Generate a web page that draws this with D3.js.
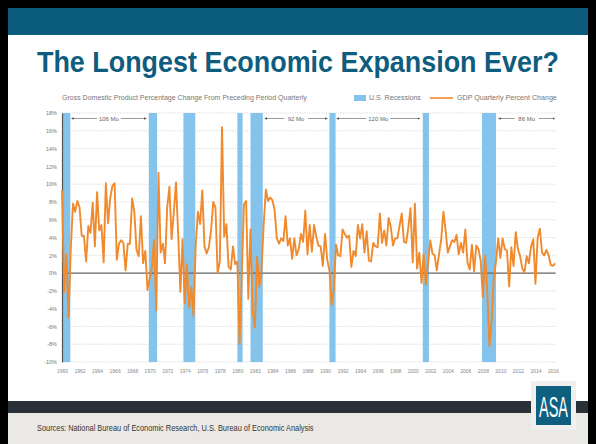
<!DOCTYPE html>
<html lang="en">
<head>
  <meta charset="UTF-8">
  <title>The Longest Economic Expansion Ever?</title>
  <script src="https://d3js.org/d3.v7.min.js"></script>
  <style>
    body { margin: 0; background: #000; }
    svg { display: block; }
    text { font-family: "Liberation Sans", Arial, sans-serif; }
  </style>
</head>
<body>
  <svg id="chart" width="596" height="444"></svg>

  <script>
    // real GDP, quarterly percent change (annualized), 1960 Q1 onward
    const startYear = 1960;
    const gdp = [
      9.3, -2.1, 2.1, -5.0,   2.7, 7.8, 6.9, 8.1,    7.4, 4.2, 4.2, 1.3,   5.3, 4.5, 7.9, 3.0,
      9.1, 4.8, 5.4, 1.2,     10.1, 5.6, 8.4, 9.8,   10.1, 1.5, 3.3, 3.7,  3.4, 0.3, 3.3, 3.3,
      8.4, 6.9, 2.6, 1.9,     6.4, 1.1, 2.5, -1.9,   -0.6, 0.6, 3.7, -4.2, 11.3, 2.3, 3.3, 1.1,
      7.4, 9.7, 3.8, 6.8,     10.2, 4.4, -2.1, 3.8,  -3.4, 1.0, -3.9, -1.6, -4.8, 3.1, 6.9, 5.5,
      9.3, 3.0, 2.2, 2.9,     4.8, 8.0, 7.4, 0.0,    1.3, 16.4, 4.1, 5.5,  0.7, 0.4, 3.0, 1.0,
      1.3, -8.0, -0.5, 7.7,   8.1, -2.9, 4.9, -4.3,  -6.1, 1.8, -1.5, 0.2, 5.4, 9.4, 8.1, 8.5,
      8.2, 7.1, 3.9, 3.3,     3.9, 3.6, 6.4, 3.1,    3.9, 1.6, 3.9, 2.0,   2.7, 4.4, 3.5, 7.0,
      2.1, 5.4, 2.4, 5.4,     4.1, 3.1, 3.0, 0.8,    4.4, 1.5, 0.3, -3.6,  -1.9, 3.2, 2.0, 1.9,
      4.9, 4.4, 4.0, 4.2,     0.7, 2.5, 1.9, 5.4,    3.9, 5.5, 2.3, 4.7,   1.4, 1.3, 3.4, 3.0,
      2.9, 6.7, 3.4, 4.8,     3.1, 6.2, 5.2, 3.1,    3.9, 3.9, 5.3, 6.7,   3.5, 3.4, 5.1, 7.3,
      1.2, 7.8, 0.5, 2.3,     -1.1, 2.1, -1.3, 1.1,  3.7, 2.2, 2.0, 0.3,   2.1, 3.8, 6.9, 4.8,
      2.3, 3.0, 3.7, 3.5,     4.3, 2.1, 3.4, 2.3,    4.9, 1.2, 0.4, 3.2,   0.2, 3.1, 2.7, 1.4,
      -2.7, 2.0, -1.9, -8.2,  -5.4, -0.5, 1.3, 3.9,  1.7, 3.9, 2.7, 2.5,   -1.5, 2.9, 0.8, 4.6,
      2.7, 1.9, 0.5, 0.1,     1.9, 1.1, 3.0, 3.8,    -1.2, 4.0, 5.0, 2.3,  2.0, 2.6, 2.0, 0.9,
      0.8, 1.1
    ];

    // NBER recessions, start/end in decimal years
    const recStart = [1960.0, 1969.9, 1973.85, 1980.0, 1981.5, 1990.5, 2001.15, 2007.9];
    const recEnd   = [1960.95, 1970.85, 1975.2, 1980.6, 1982.9, 1991.2, 2001.85, 2009.5];

    // expansion annotations
    const expLabel = ["106 Mo", "92 Mo", "120 Mo", "86 Mo"];
    const expFrom  = [1961.1, 1983.15, 1991.35, 2009.8];
    const expTo    = [1969.6, 1990.25, 2000.8, 2016.2];

    const yTicks = d3.range(-10, 19, 2);
    const xTicks = d3.range(1960, 2017, 2);

    const svg = d3.select("#chart");
    const teal = "#0e5d7e";

    // squeeze a text horizontally to a given width (narrow-font look)
    function fit(sel, x0, y0, w, anchor) {
      const len = sel.node().getComputedTextLength();
      const s = w / len;
      const dx = anchor === "middle" ? -w / 2 : 0;
      sel.attr("x", 0).attr("y", 0).attr("text-anchor", "start")
        .attr("transform", `translate(${x0 + dx},${y0}) scale(${s},1)`);
    }

    // slide frame
    svg.append("rect").attr("x", 8).attr("y", 8).attr("width", 580).attr("height", 436).attr("fill", "#fff");
    svg.append("rect").attr("x", 8).attr("y", 8).attr("width", 580).attr("height", 27).attr("fill", "#0b5c7c");
    svg.append("rect").attr("x", 8).attr("y", 413).attr("width", 580).attr("height", 31).attr("fill", "#ebe9e5");
    svg.append("rect").attr("x", 8).attr("y", 401).attr("width", 580).attr("height", 12).attr("fill", "#2a3038");

    const title = svg.append("text")
      .attr("font-size", 29).attr("font-weight", "bold")
      .attr("fill", teal)
      .text("The Longest Economic Expansion Ever?");
    fit(title, 37, 72, 522, "start");

    const src = svg.append("text")
      .attr("font-size", 8.5).attr("fill", "#333")
      .text("Sources: National Bureau of Economic Research, U.S. Bureau of Economic Analysis");
    fit(src, 37, 431, 277, "start");

    // logo
    svg.append("rect").attr("x", 531).attr("y", 381).attr("width", 45).attr("height", 49).attr("fill", "#f0efed");
    svg.append("rect").attr("x", 536).attr("y", 386).attr("width", 35).attr("height", 39).attr("fill", "#0f5f80");
    const logo = svg.append("text")
      .attr("font-size", 30).attr("fill", "#fff")
      .text("ASA");
    fit(logo, 553.5, 417, 29, "middle");

    // chart
    const x = d3.scaleLinear().domain([1960, 2016]).range([62, 553]);
    const y = d3.scaleLinear().domain([-10, 18]).range([362, 113]);
    const xRight = x(2016.3);

    const g = svg.append("g");

    g.selectAll(".grid")
      .data(yTicks.filter(d => d !== 0))
      .join("line")
      .attr("class", "grid")
      .attr("x1", x(1960)).attr("x2", xRight)
      .attr("y1", d => y(d)).attr("y2", d => y(d))
      .attr("stroke", "#cfcfcf").attr("stroke-width", 0.8)
      .attr("stroke-dasharray", "1.2,1.2");

    g.selectAll(".rec")
      .data(recStart)
      .join("rect")
      .attr("class", "rec")
      .attr("x", d => x(d))
      .attr("width", (d, i) => x(recEnd[i]) - x(d))
      .attr("y", y(18)).attr("height", y(-10) - y(18))
      .attr("fill", "#84c3ec");

    // y axis
    const yAxis = g.append("g")
      .attr("transform", `translate(${x(1960)},0)`)
      .call(d3.axisLeft(y).tickValues(yTicks).tickSize(0).tickPadding(5).tickFormat(d => d + "%"));
    yAxis.select(".domain").attr("stroke", "#555").attr("stroke-width", 1.2);
    yAxis.selectAll("text").attr("font-size", 5.5).attr("fill", "#777").attr("font-family", null);

    // x axis labels
    const xAxis = g.append("g")
      .attr("transform", `translate(0,${y(-10)})`)
      .call(d3.axisBottom(x).tickValues(xTicks).tickSize(0).tickPadding(7).tickFormat(d3.format("d")));
    xAxis.select(".domain").remove();
    xAxis.selectAll("text").attr("font-size", 5).attr("fill", "#888").attr("font-family", null);

    // zero line
    g.append("line")
      .attr("x1", x(1960)).attr("x2", xRight)
      .attr("y1", y(0)).attr("y2", y(0))
      .attr("stroke", "#666").attr("stroke-width", 1.3);

    const line = d3.line()
      .x((d, i) => x(startYear + i * 0.25))
      .y(d => y(d));

    g.append("path")
      .datum(gdp)
      .attr("d", line)
      .attr("fill", "none")
      .attr("stroke", "#f08a2c")
      .attr("stroke-width", 1.9)
      .attr("stroke-linejoin", "round");

    // expansion arrows
    const defs = svg.append("defs");
    defs.append("marker")
      .attr("id", "arr").attr("viewBox", "0 0 6 6")
      .attr("refX", 5).attr("refY", 3)
      .attr("markerWidth", 4).attr("markerHeight", 4)
      .attr("orient", "auto-start-reverse")
      .append("path").attr("d", "M0,0L6,3L0,6Z").attr("fill", "#444");

    const ay = 118.5;
    expLabel.forEach((lab, i) => {
      const a = x(expFrom[i]), b = x(expTo[i]), m = (a + b) / 2;
      g.append("line")
        .attr("x1", a).attr("x2", m - 12).attr("y1", ay).attr("y2", ay)
        .attr("stroke", "#555").attr("stroke-width", 0.6)
        .attr("marker-start", "url(#arr)");
      g.append("line")
        .attr("x1", m + 12).attr("x2", b).attr("y1", ay).attr("y2", ay)
        .attr("stroke", "#555").attr("stroke-width", 0.6)
        .attr("marker-end", "url(#arr)");
      g.append("text")
        .attr("x", m).attr("y", ay + 2)
        .attr("text-anchor", "middle")
        .attr("font-size", 6).attr("fill", "#666")
        .text(lab);
    });

    // header texts / legend
    const sub = g.append("text")
      .attr("font-size", 7).attr("fill", "#777")
      .text("Gross Domestic Product Percentage Change From Preceding Period Quarterly");
    fit(sub, 62, 100, 245, "start");

    g.append("rect").attr("x", 354).attr("y", 95).attr("width", 12).attr("height", 6).attr("fill", "#84c3ec");
    const l1 = g.append("text")
      .attr("font-size", 7).attr("fill", "#777")
      .text("U.S. Recessions");
    fit(l1, 369, 100, 52, "start");
    g.append("line")
      .attr("x1", 430).attr("x2", 453).attr("y1", 98).attr("y2", 98)
      .attr("stroke", "#f08a2c").attr("stroke-width", 1.6);
    const l2 = g.append("text")
      .attr("font-size", 7).attr("fill", "#777")
      .text("GDP Quarterly Percent Change");
    fit(l2, 457, 100, 100, "start");
  </script>
</body>
</html>
